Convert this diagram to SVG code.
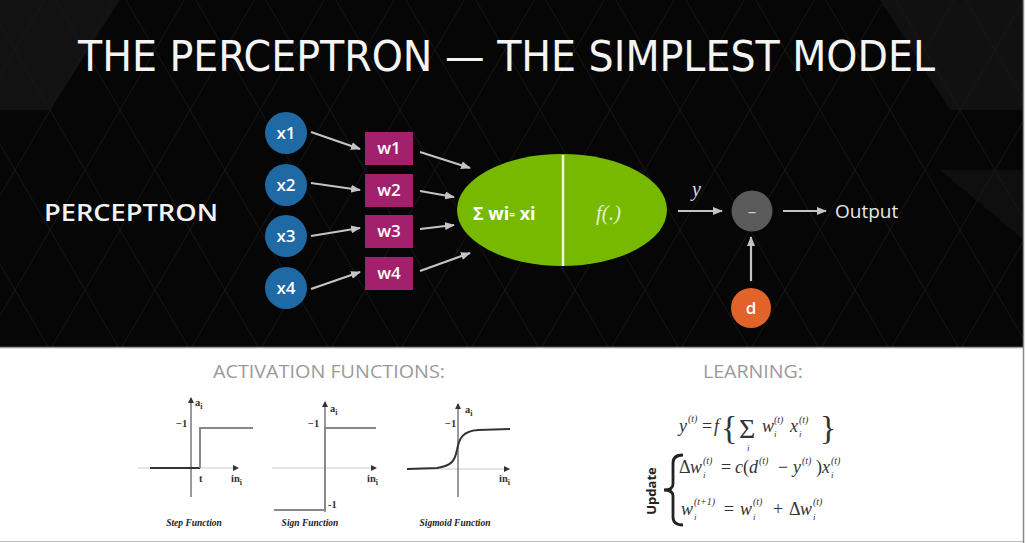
<svg xmlns="http://www.w3.org/2000/svg" width="1027" height="543" viewBox="0 0 1027 543">
<style>
.title{font-family:"DejaVu Sans Condensed","Liberation Sans",sans-serif;fill:#f4f4f4;font-size:42px}
.lbl{font-family:"Open Sans","DejaVu Sans",sans-serif;fill:#fff;font-size:17px;font-weight:600;text-anchor:middle}
.math{font-family:"Liberation Serif",serif;font-style:italic;fill:#333}
.up{font-style:normal}
.cap{font-family:"Liberation Serif",serif;font-style:italic;font-weight:bold;fill:#222;font-size:9.5px;text-anchor:middle}
.gt{font-family:"Liberation Serif",serif;fill:#333;font-size:10.5px;font-weight:bold}
.conn{stroke:#c4c4c4;stroke-width:2.2;fill:none;marker-end:url(#ah)}
.axis{stroke:#555;stroke-width:1.2;fill:none}
.xaxis{stroke:#ccc;stroke-width:1;fill:none}
.fn{stroke:#888;stroke-width:2;fill:none}
.hd{font-family:"Open Sans","DejaVu Sans",sans-serif;fill:#9a9a9a;font-size:18px}
</style>
<defs>
<marker id="ah" markerUnits="userSpaceOnUse" markerWidth="10" markerHeight="8" refX="9" refY="4" orient="auto"><path d="M0,0 L10,4 L0,8 z" fill="#c4c4c4"/></marker>
<marker id="sa" markerUnits="userSpaceOnUse" markerWidth="6" markerHeight="6" refX="5" refY="3" orient="auto"><path d="M0,0 L6,3 L0,6 z" fill="#333"/></marker>
<pattern id="tri" patternUnits="userSpaceOnUse" width="140" height="240" x="-20" y="-10">
<path d="M0,0L140,240 M140,0L0,240 M0,120L70,240 M70,0L140,120 M70,0L0,120 M140,120L70,240" stroke="#161616" stroke-width="1" fill="none"/>
</pattern>
</defs>
<rect x="0" y="0" width="1027" height="543" fill="#fff"/>
<rect x="0" y="0" width="1024" height="347" fill="#060606"/>
<polygon points="0,0 120,0 50,110 0,110" fill="#121212"/>
<polygon points="880,0 1024,0 1024,110 950,110" fill="#111"/>
<polygon points="940,170 1024,170 1024,240" fill="#0f0f0f"/>
<rect x="0" y="0" width="1024" height="347" fill="url(#tri)"/>
<line x1="0" y1="347.5" x2="1024" y2="347.5" stroke="#999" stroke-width="1.5"/>
<line x1="0" y1="541.5" x2="1024" y2="541.5" stroke="#bbb" stroke-width="1"/>
<line x1="1023.5" y1="0" x2="1023.5" y2="543" stroke="#888" stroke-width="1.5"/>

<text class="title" x="78" y="71" textLength="857" lengthAdjust="spacingAndGlyphs">THE PERCEPTRON — THE SIMPLEST MODEL</text>
<text x="44" y="221" font-family="Open Sans, DejaVu Sans, sans-serif" font-weight="600" font-size="24" fill="#f2f2f2" textLength="174" lengthAdjust="spacingAndGlyphs">PERCEPTRON</text>

<g id="connectors">
<line class="conn" x1="311" y1="132" x2="360" y2="149"/>
<line class="conn" x1="311" y1="183" x2="360" y2="190"/>
<line class="conn" x1="311" y1="236" x2="360" y2="228"/>
<line class="conn" x1="311" y1="289" x2="360" y2="272"/>
<line class="conn" x1="420" y1="152" x2="470" y2="168"/>
<line class="conn" x1="420" y1="191" x2="454" y2="197"/>
<line class="conn" x1="420" y1="229" x2="454" y2="225"/>
<line class="conn" x1="420" y1="271" x2="470" y2="253"/>
<line class="conn" x1="678" y1="211" x2="722" y2="211"/>
<line class="conn" x1="783" y1="211" x2="826" y2="211"/>
<line class="conn" x1="751" y1="281" x2="751" y2="237"/>
</g>

<g id="x1"><circle cx="286" cy="133" r="21" fill="#1f6aa5"/><text class="lbl" x="286" y="139">x1</text></g>
<g id="x2"><circle cx="286" cy="185" r="21" fill="#1f6aa5"/><text class="lbl" x="286" y="191">x2</text></g>
<g id="x3"><circle cx="286" cy="236" r="21" fill="#1f6aa5"/><text class="lbl" x="286" y="242">x3</text></g>
<g id="x4"><circle cx="286" cy="288" r="21" fill="#1f6aa5"/><text class="lbl" x="286" y="294">x4</text></g>

<g id="w1"><rect x="365" y="132" width="48" height="33" fill="#a3216c"/><text class="lbl" x="389" y="154">w1</text></g>
<g id="w2"><rect x="365" y="174" width="48" height="33" fill="#a3216c"/><text class="lbl" x="389" y="196">w2</text></g>
<g id="w3"><rect x="365" y="215" width="48" height="33" fill="#a3216c"/><text class="lbl" x="389" y="237">w3</text></g>
<g id="w4"><rect x="365" y="257" width="48" height="33" fill="#a3216c"/><text class="lbl" x="389" y="279">w4</text></g>

<g id="neuron">
<ellipse cx="562" cy="210" rx="105" ry="56" fill="#76b900"/>
<line x1="563" y1="155" x2="563" y2="266" stroke="#f0f8e0" stroke-width="2.5"/>
<text x="473" y="220" font-family="Open Sans, DejaVu Sans, sans-serif" font-weight="bold" font-size="18" fill="#fff">Σ wi<tspan font-size="10" dy="-2">=</tspan><tspan dy="2"> xi</tspan></text>
<text x="596" y="220" font-family="Liberation Serif, serif" font-style="italic" font-size="21" fill="#e4efc8">f(.)</text>
</g>

<text x="692" y="196" font-family="Liberation Serif, serif" font-style="italic" font-size="20" fill="#ddd">y</text>

<g id="minus"><circle cx="752" cy="211" r="20.5" fill="#5a5a5a"/><text x="752" y="217" font-family="Open Sans, DejaVu Sans, sans-serif" font-size="17" fill="#ccc" text-anchor="middle">–</text></g>
<g id="d"><circle cx="751" cy="308" r="20" fill="#e2632a"/><text class="lbl" x="751" y="314">d</text></g>
<g id="output"><text x="835" y="218" font-family="Open Sans, DejaVu Sans, sans-serif" font-size="19" fill="#e6e6e6">Output</text></g>

<text class="hd" x="213" y="378" textLength="232" lengthAdjust="spacingAndGlyphs">ACTIVATION FUNCTIONS:</text>
<text class="hd" x="703" y="378" textLength="100" lengthAdjust="spacingAndGlyphs">LEARNING:</text>

<g id="step">
<line class="xaxis" x1="138" y1="468" x2="238" y2="468" marker-end="url(#sa)"/>
<line class="axis" x1="191" y1="497" x2="191" y2="398" marker-end="url(#sa)"/>
<path d="M150,468 H200" stroke="#333" stroke-width="2" fill="none"/>
<path class="fn" d="M200,468 V428 H253"/>
<text class="gt" x="176" y="427">−1</text>
<text class="gt" x="195" y="406">a<tspan font-size="8" dy="3">i</tspan></text>
<text class="gt" x="199" y="482">t</text>
<text class="gt" x="231" y="482">in<tspan font-size="8" dy="3">i</tspan></text>
<text class="cap" x="194" y="526">Step Function</text>
</g>

<g id="sign">
<line class="xaxis" x1="272" y1="468" x2="376" y2="468" marker-end="url(#sa)"/>
<line class="axis" x1="325" y1="512" x2="325" y2="402" marker-end="url(#sa)"/>
<path class="fn" d="M274,510 H325 V428 H376"/>
<text class="gt" x="308" y="427">−1</text>
<text class="gt" x="330" y="412">a<tspan font-size="8" dy="3">i</tspan></text>
<text class="gt" x="328" y="508">-1</text>
<text class="gt" x="367" y="482">in<tspan font-size="8" dy="3">i</tspan></text>
<text class="cap" x="310" y="526">Sign Function</text>
</g>

<g id="sigmoid">
<line class="xaxis" x1="407" y1="469" x2="509" y2="469" marker-end="url(#sa)"/>
<line class="axis" x1="458" y1="497" x2="458" y2="404" marker-end="url(#sa)"/>
<path d="M407,469 L437,468 C452,466 455,460 457,450 C459,438 463,431 478,430 L510,429" stroke="#333" stroke-width="2" fill="none"/>
<text class="gt" x="445" y="427">−1</text>
<text class="gt" x="465" y="413">a<tspan font-size="8" dy="3">i</tspan></text>
<text class="gt" x="499" y="482">in<tspan font-size="8" dy="3">i</tspan></text>
<text class="cap" x="455" y="526">Sigmoid Function</text>
</g>

<g id="learning">
<text class="math" x="679" y="432" font-size="18">y</text>
<text class="math" x="688" y="422" font-size="10">(t)</text>
<text class="math up" x="702" y="432" font-size="18">=</text>
<text class="math" x="714" y="432" font-size="18">f</text>
<text class="math up" x="721" y="439" font-size="34">{</text>
<text class="math up" x="739" y="438" font-size="28">Σ</text>
<text class="math" x="747" y="451" font-size="9">i</text>
<text class="math" x="762" y="432" font-size="18">w</text>
<text class="math" x="774" y="437" font-size="9">i</text>
<text class="math" x="774" y="423" font-size="10">(t)</text>
<text class="math" x="790" y="432" font-size="18">x</text>
<text class="math" x="799" y="437" font-size="9">i</text>
<text class="math" x="799" y="423" font-size="10">(t)</text>
<text class="math up" x="820" y="439" font-size="34">}</text>

<path d="M683,455 Q673,455 673,463 L673,484 Q673,490 664,490 Q673,490 673,496 L673,517 Q673,525 683,525" stroke="#222" stroke-width="2.8" fill="none"/>
<text x="653" y="491" transform="rotate(-90 653 491)" font-family="Open Sans, DejaVu Sans, sans-serif" font-weight="bold" font-size="13" fill="#222" text-anchor="middle" dominant-baseline="middle">Update</text>

<text class="math up" x="679" y="473" font-size="18">Δ</text>
<text class="math" x="690" y="473" font-size="18">w</text>
<text class="math" x="703" y="478" font-size="9">i</text>
<text class="math" x="703" y="464" font-size="10">(t)</text>
<text class="math up" x="721" y="473" font-size="18">=</text>
<text class="math" x="735" y="473" font-size="18">c</text>
<text class="math up" x="743" y="473" font-size="18">(</text>
<text class="math" x="749" y="473" font-size="18">d</text>
<text class="math" x="759" y="464" font-size="10">(t)</text>
<text class="math up" x="778" y="473" font-size="18" fill="#aaa">−</text>
<text class="math" x="793" y="473" font-size="18">y</text>
<text class="math" x="802" y="464" font-size="10">(t)</text>
<text class="math up" x="816" y="473" font-size="18">)</text>
<text class="math" x="822" y="473" font-size="18">x</text>
<text class="math" x="831" y="478" font-size="9">i</text>
<text class="math" x="831" y="464" font-size="10">(t)</text>

<text class="math" x="681" y="515" font-size="18">w</text>
<text class="math" x="694" y="520" font-size="9">i</text>
<text class="math" x="694" y="505" font-size="10">(t+1)</text>
<text class="math up" x="724" y="515" font-size="18">=</text>
<text class="math" x="740" y="515" font-size="18">w</text>
<text class="math" x="753" y="520" font-size="9">i</text>
<text class="math" x="753" y="505" font-size="10">(t)</text>
<text class="math up" x="773" y="515" font-size="18" fill="#aaa">+</text>
<text class="math up" x="789" y="515" font-size="18">Δ</text>
<text class="math" x="800" y="515" font-size="18">w</text>
<text class="math" x="813" y="520" font-size="9">i</text>
<text class="math" x="813" y="505" font-size="10">(t)</text>
</g>
</svg>
